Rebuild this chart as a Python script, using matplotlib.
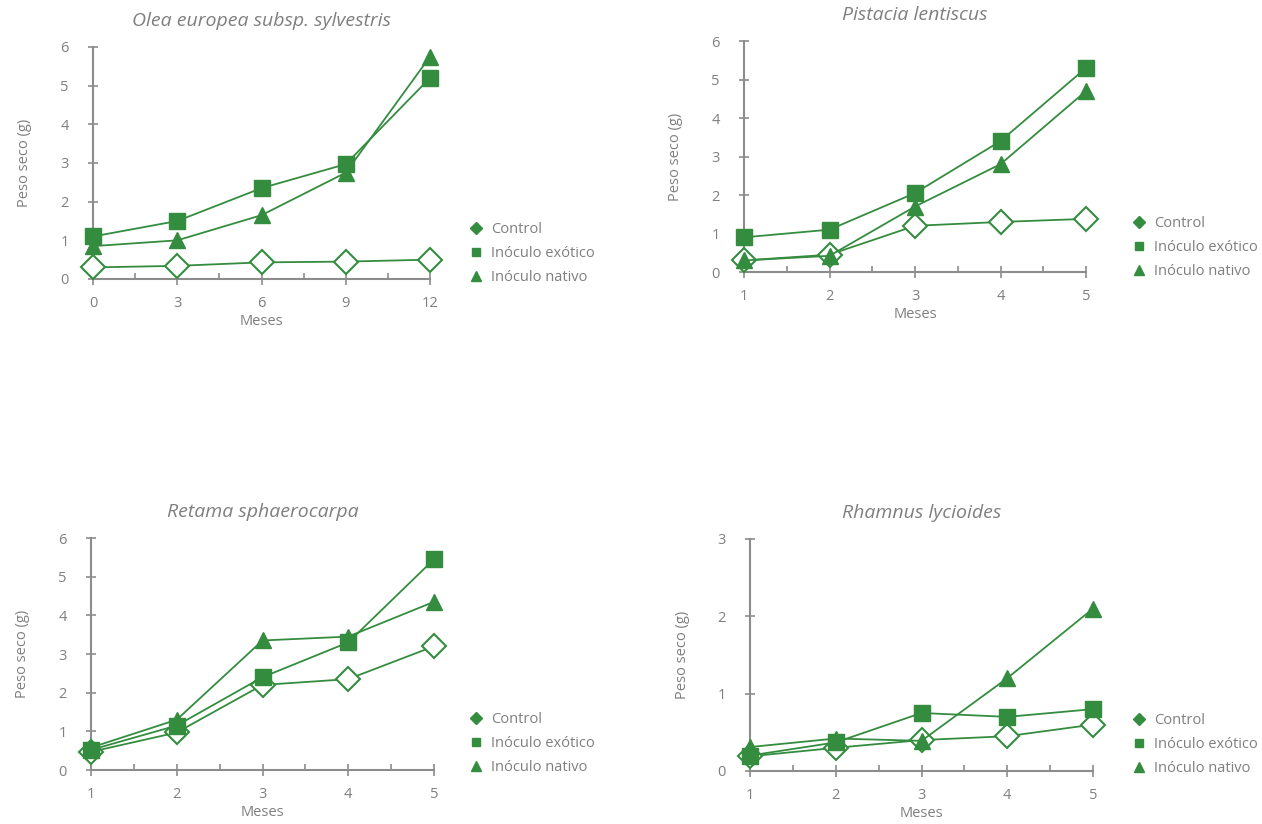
import matplotlib.pyplot as plt
from matplotlib.lines import Line2D
from matplotlib.ticker import MultipleLocator

plt.rcParams['font.family'] = ['Open Sans', 'DejaVu Sans']

verde = '#348c3f'
gris = '#7f7f7f'
gris_eje = '#8c8c8c'

# Datos
series = ['Control', 'Inóculo exótico', 'Inóculo nativo']

olea_meses = [0, 3, 6, 9, 12]
olea_control = [0.30, 0.34, 0.43, 0.45, 0.50]
olea_exotico = [1.10, 1.50, 2.35, 2.97, 5.20]
olea_nativo = [0.85, 1.00, 1.65, 2.75, 5.75]

pist_meses = [1, 2, 3, 4, 5]
pist_control = [0.30, 0.45, 1.20, 1.30, 1.38]
pist_exotico = [0.90, 1.10, 2.05, 3.40, 5.30]
pist_nativo = [0.30, 0.42, 1.70, 2.80, 4.70]

ret_meses = [1, 2, 3, 4, 5]
ret_control = [0.47, 0.97, 2.20, 2.35, 3.20]
ret_exotico = [0.52, 1.15, 2.40, 3.30, 5.45]
ret_nativo = [0.58, 1.30, 3.35, 3.45, 4.35]

rham_meses = [1, 2, 3, 4, 5]
rham_control = [0.19, 0.30, 0.40, 0.45, 0.60]
rham_exotico = [0.20, 0.37, 0.75, 0.70, 0.80]
rham_nativo = [0.31, 0.42, 0.39, 1.20, 2.10]

W, H = 1262, 824
fig = plt.figure(figsize=(W / 100, H / 100), dpi=100)


def caja(x0, x1, ytop, ybot):
    # convierte pixeles a coordenadas de figura
    return [x0 / W, 1 - ybot / H, (x1 - x0) / W, (ybot - ytop) / H]


def panel(pos, titulo, meses, control, exotico, nativo, ymax, xmaj, xmin_, leg_xy):
    ax = fig.add_axes(caja(*pos))
    ax.plot(meses, control, '-', color=verde, lw=1.3, marker='D', ms=12,
            mfc='white', mec=verde, mew=1.5, clip_on=False, zorder=3)
    ax.plot(meses, exotico, '-', color=verde, lw=1.3, marker='s', ms=11,
            mfc=verde, mec=verde, clip_on=False, zorder=3)
    ax.plot(meses, nativo, '-', color=verde, lw=1.3, marker='^', ms=12,
            mfc=verde, mec=verde, clip_on=False, zorder=3)
    ax.set_xlim(meses[0], meses[-1])
    ax.set_ylim(0, ymax)
    ax.xaxis.set_major_locator(MultipleLocator(xmaj))
    ax.xaxis.set_minor_locator(MultipleLocator(xmin_))
    ax.yaxis.set_major_locator(MultipleLocator(1))
    for s in ['top', 'right']:
        ax.spines[s].set_visible(False)
    for s in ['left', 'bottom']:
        ax.spines[s].set_color(gris_eje)
        ax.spines[s].set_linewidth(1.5)
    ax.tick_params(axis='y', direction='inout', length=7, width=1.2,
                   color=gris_eje, labelcolor=gris, labelsize=10.5, pad=14)
    ax.tick_params(axis='x', which='major', direction='inout', length=9,
                   width=1.2, color=gris_eje, labelcolor=gris, labelsize=10.5, pad=8)
    ax.tick_params(axis='x', which='minor', direction='in', length=4,
                   width=1.2, color=gris_eje)
    ax.set_xlabel('Meses', color=gris, fontsize=10.5, labelpad=2)
    ax.set_ylabel('Peso seco (g)', color=gris, fontsize=10.5, labelpad=20)
    ax.set_title(titulo, color=gris, fontsize=14, style='italic', pad=15)

    handles = [
        Line2D([], [], color=verde, marker='D', ms=6, lw=0),
        Line2D([], [], color=verde, marker='s', ms=6, lw=0),
        Line2D([], [], color=verde, marker='^', ms=7, lw=0),
    ]
    leg = fig.legend(handles, series, loc='upper left',
                     bbox_to_anchor=(leg_xy[0] / W, 1 - leg_xy[1] / H),
                     frameon=False, fontsize=10.5, handlelength=0.8,
                     handletextpad=0.6, labelspacing=0.62, borderpad=0)
    for t in leg.get_texts():
        t.set_color(gris)
    return ax


panel((93, 430, 47, 279), 'Olea europea subsp. sylvestris',
      olea_meses, olea_control, olea_exotico, olea_nativo, 6, 3, 1.5, (463, 215))
panel((744, 1086, 41, 272), 'Pistacia lentiscus',
      pist_meses, pist_control, pist_exotico, pist_nativo, 6, 1, 0.5, (1126, 209))
panel((91, 434, 538, 770), 'Retama sphaerocarpa',
      ret_meses, ret_control, ret_exotico, ret_nativo, 6, 1, 0.5, (463, 705))
panel((750, 1093, 539, 771), 'Rhamnus lycioides',
      rham_meses, rham_control, rham_exotico, rham_nativo, 3, 1, 0.5, (1126, 706))

fig.savefig('out.png', dpi=100)
